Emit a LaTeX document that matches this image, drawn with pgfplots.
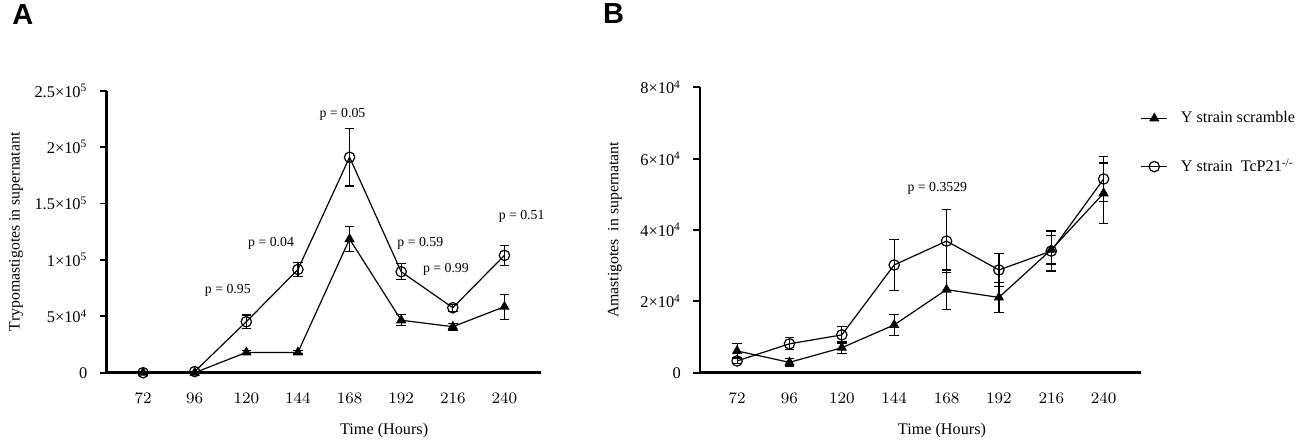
\documentclass[border=0pt]{standalone}
\usepackage{pgfplots}
\pgfplotsset{compat=1.18}
\usepackage{fontspec}
\setmainfont{Liberation Serif}
\newfontfamily\panelfont{Liberation Sans}
\begin{document}
\begin{tikzpicture}
\useasboundingbox (0,0) rectangle (649.5pt,222.5pt);
\pgfplotsset{
 mystyle/.style={
  scale only axis,
  axis x line=bottom, axis y line=left,
  axis line style={-, line width=1.4pt},
  xmin=55, xmax=257,
  xtick={72,96,120,144,168,192,216,240},
  x tick style={draw=none},
  y tick style={line width=0.9pt, black},
  tick align=outside,
  major tick length=3.5pt,
  tick label style={font=\fontsize{8.2}{9}\selectfont},
  xticklabel style={yshift=-3pt},
  yticklabel style={xshift=-2.5pt},
  scaled y ticks=false,
  label style={font=\fontsize{8.1}{10}\selectfont},
  ymin=0,
  clip=false,
 },
 scr/.style={black, line width=0.6pt, mark=triangle*, mark size=2.4pt, mark options={solid, fill=black},
   error bars/.cd, y dir=both, y explicit, error bar style={line width=0.6pt}, error mark options={rotate=90, mark size=2.4pt, line width=0.6pt}},
 tcp/.style={black, line width=0.6pt, mark=o, mark size=2.6pt, mark options={solid},
   error bars/.cd, y dir=both, y explicit, error bar style={line width=0.6pt}, error mark options={rotate=90, mark size=2.4pt, line width=0.6pt}},
}
\node[anchor=base west, font=\panelfont\bfseries\fontsize{14.5}{16}\selectfont, inner sep=0pt] at (6pt,210pt) {A};
\node[anchor=base west, font=\panelfont\bfseries\fontsize{14.5}{16}\selectfont, inner sep=0pt] at (301.3pt,210.5pt) {B};

% Panel A
\begin{axis}[mystyle,
  at={(53.25pt,36.15pt)}, anchor=south west,
  width=217.25pt, height=141pt,
  ymax=250000,
  ytick={0,50000,100000,150000,200000,250000},
  yticklabels={0,5×10\textsuperscript{4},1×10\textsuperscript{5},1.5×10\textsuperscript{5},2×10\textsuperscript{5},2.5×10\textsuperscript{5}},
  xlabel={Time (Hours)},
  xlabel style={at={(axis description cs:0.639,0)}, anchor=base, yshift=-30.7pt},
  ylabel={Trypomastigotes in supernatant},
  ylabel style={at={(axis description cs:-0.208,0.5)}, anchor=center, font=\fontsize{7.9}{9}\selectfont},
]
\addplot+[scr] coordinates {
 (72,0) +- (0,0)
 (96,0) +- (0,0)
 (120,18000) +- (0,1500)
 (144,18000) +- (0,1500)
 (168,118500) +- (0,11000)
 (192,46500) +- (0,5000)
 (216,40800) +- (0,3000)
 (240,58500) +- (0,11000)
};
\addplot+[tcp] coordinates {
 (72,0) +- (0,0)
 (96,1000) +- (0,0)
 (120,45200) +- (0,6000)
 (144,91500) +- (0,6500)
 (168,191000) +- (0,25500)
 (192,89500) +- (0,7000)
 (216,57600) +- (0,3000)
 (240,104000) +- (0,8800)
};
\begin{scope}[every node/.style={font=\fontsize{6.9}{8}\selectfont, inner sep=0pt}]
\node at (axis cs:111.4,73300) {p = 0.95};
\node at (axis cs:131.5,114700) {p = 0.04};
\node at (axis cs:164.7,229000) {p = 0.05};
\node at (axis cs:200.9,115000) {p = 0.59};
\node at (axis cs:212.8,91600) {p = 0.99};
\node at (axis cs:248,138300) {p = 0.51};
\end{scope}
\end{axis}

% Panel B
\begin{axis}[mystyle,
  at={(350pt,36.15pt)}, anchor=south west,
  width=220.35pt, height=142.7pt,
  ymax=80000,
  ytick={0,20000,40000,60000,80000},
  yticklabels={0,2×10\textsuperscript{4},4×10\textsuperscript{4},6×10\textsuperscript{4},8×10\textsuperscript{4}},
  xlabel={Time (Hours)},
  xlabel style={at={(axis description cs:0.549,0)}, anchor=base, yshift=-30.7pt},
  ylabel={Amastigotes\ \ in supernatant},
  ylabel style={at={(axis description cs:-0.193,0.5)}, anchor=center, font=\fontsize{7.9}{9}\selectfont},
  legend style={at={(1,1)}, anchor=north west, draw=none, fill=none, inner sep=0pt, outer sep=0pt,
    row sep=16.5pt, yshift=-12pt, font=\fontsize{8.1}{10}\selectfont,
    nodes={inner sep=0pt, outer sep=0pt}},
  legend cell align=left,
  legend image code/.code={\draw[mark repeat=2, mark phase=2, #1] plot coordinates {(0pt,0pt) (6.5pt,0pt) (13pt,0pt)};},
]
\addplot+[scr] coordinates {
 (72,6100) +- (0,2100)
 (96,2900) +- (0,1000)
 (120,7000) +- (0,1600)
 (144,13400) +- (0,3000)
 (168,23300) +- (0,5500)
 (192,21100) +- (0,4200)
 (216,34500) +- (0,4000)
 (240,50300) +- (0,8500)
};
\addlegendentry{\hspace{6.5pt}Y strain scramble}
\addplot+[tcp] coordinates {
 (72,3300) +- (0,800)
 (96,8100) +- (0,1700)
 (120,10600) +- (0,2300)
 (144,30200) +- (0,7100)
 (168,36900) +- (0,8900)
 (192,28800) +- (0,4600)
 (216,34100) +- (0,5600)
 (240,54300) +- (0,6300)
};
\addlegendentry{\hspace{6.5pt}Y strain\ \ TcP21\textsuperscript{-/-}}
\node[font=\fontsize{6.9}{8}\selectfont, inner sep=0pt] at (axis cs:163.8,51700) {p = 0.3529};
\end{axis}
\end{tikzpicture}
\end{document}
